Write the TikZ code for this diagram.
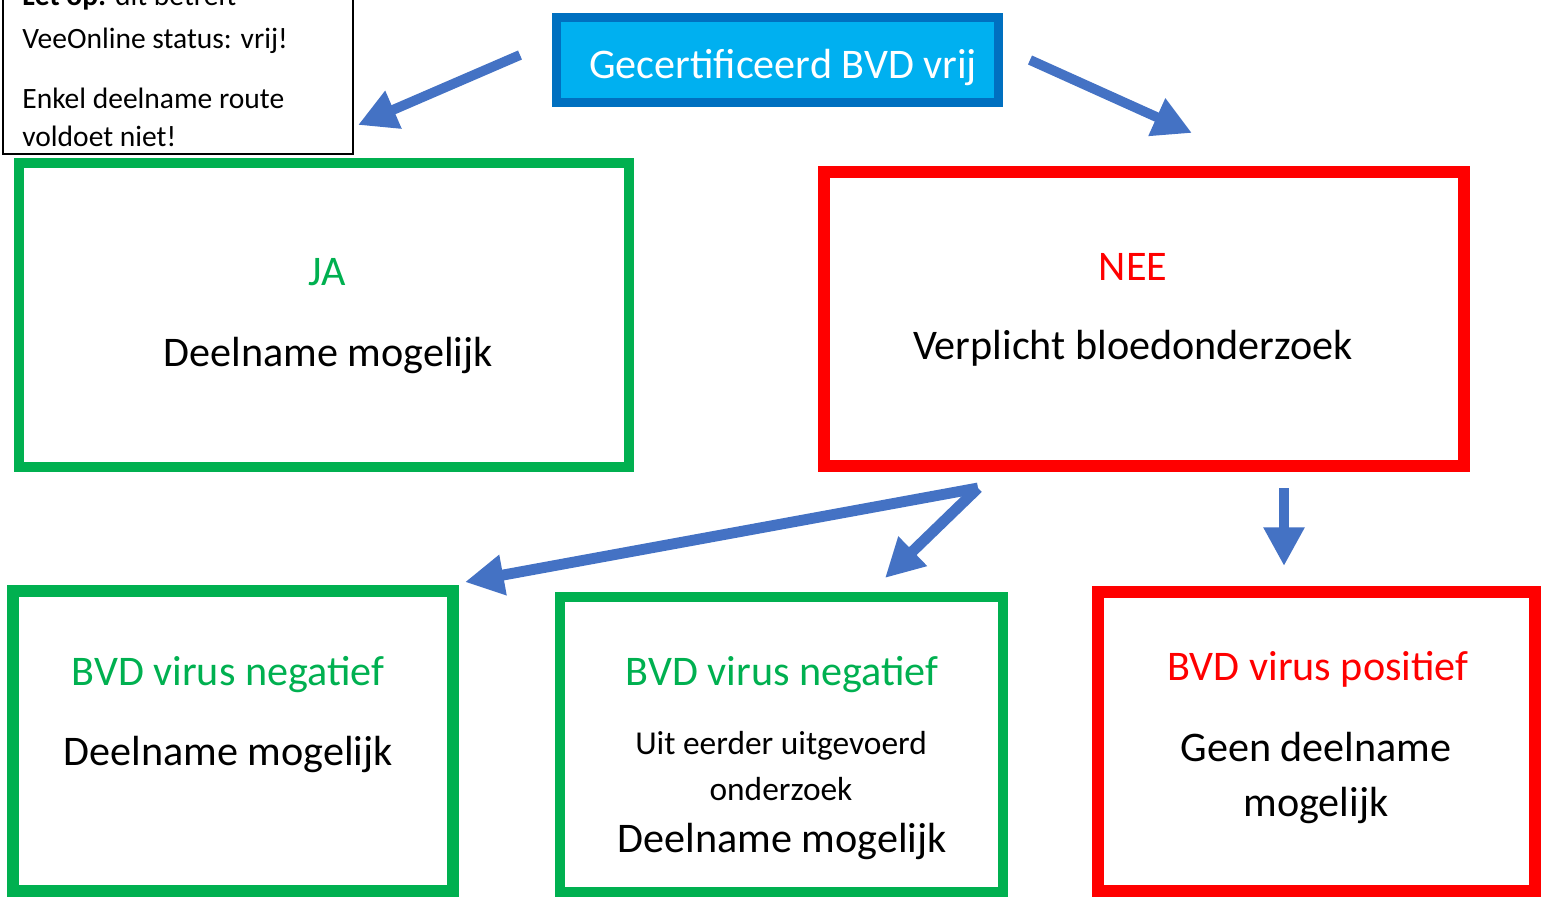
\documentclass[tikz,border=0pt]{standalone}
\usepackage{fontspec}
\setmainfont{Carlito}
\usetikzlibrary{arrows.meta,positioning,calc}
\definecolor{okgreen}{HTML}{00B050}
\definecolor{nored}{HTML}{FF0000}
\definecolor{bvdblue}{HTML}{0070C0}
\definecolor{bvdfill}{HTML}{00B0F0}
\definecolor{flowblue}{HTML}{4472C4}

\begin{document}
\begin{tikzpicture}
[x=0.02cm,y=-0.02cm,
box/.style={draw,shape=rectangle,inner sep=0pt},
okbox/.style={box,draw=okgreen},
nobox/.style={box,draw=nored},
big/.style={font=\fontsize{24}{29}\selectfont,anchor=base,inner sep=0pt},
small/.style={font=\fontsize{19}{23}\selectfont,anchor=base,inner sep=0pt},
notetxt/.style={font=\fontsize{16.8}{20}\selectfont,anchor=base west,inner sep=0pt},
flow/.style={flowblue,line width=6.2pt,-{Triangle[length=22pt,width=22pt]}}]
\useasboundingbox (0,0) rectangle (1541,897);
\clip (0,0) rectangle (1541,897);
%%
% note
%%
\node[box,line width=0.85pt,minimum width=7cm,minimum height=4.28cm] (note) at (178,47) {};
\node[notetxt] (note1) at (22,5) {\textbf{Let op:} dit betreft};
\node[notetxt] (note2) at (22,48) {VeeOnline status: vrij!};
\node[notetxt] (note3) at (22,108) {Enkel deelname route};
\node[notetxt] (note4) at (22,146) {voldoet niet!};
%%
% start
%%
\node[box,draw=bvdblue,fill=bvdfill,line width=5.1pt,minimum width=8.84cm,minimum height=1.7cm] (start) at (777.5,60) {};
\node[big,text=white] (startt) at (783,78) {Gecertificeerd BVD vrij};
%%
% JA / NEE
%%
\node[okbox,line width=5.7pt,minimum width=12.2cm,minimum height=6.08cm] (ja) at (324,315) {};
\node[big,text=okgreen] (jat) at (327,285) {JA};
\node[big] (jad) at (328,366) {Deelname mogelijk};
%
\node[nobox,line width=6.8pt,minimum width=12.8cm,minimum height=5.88cm] (nee) at (1144,319) {};
\node[big,text=nored] (neet) at (1133,280) {NEE};
\node[big] (need) at (1133,359) {Verplicht bloedonderzoek};
%%
% results
%%
\node[okbox,line width=6.8pt,minimum width=8.8cm,minimum height=6cm] (neg1) at (233,741) {};
\node[big,text=okgreen] (neg1t) at (228,685) {BVD virus negatief};
\node[big] (neg1d) at (228,765) {Deelname mogelijk};
%
\node[okbox,line width=5.7pt,minimum width=8.86cm,minimum height=5.9cm] (neg2) at (781.5,744.5) {};
\node[big,text=okgreen] (neg2t) at (782,685) {BVD virus negatief};
\node[small] (neg2u) at (781,754) {Uit eerder uitgevoerd};
\node[small] (neg2o) at (781,800) {onderzoek};
\node[big] (neg2d) at (782,852) {Deelname mogelijk};
%
\node[nobox,line width=6.8pt,minimum width=8.74cm,minimum height=5.98cm] (pos) at (1316.5,741.5) {};
\node[big,text=nored] (post) at (1318,680) {BVD virus positief};
\node[big] (posd) at (1316,761) {Geen deelname};
\node[big] (posm) at (1316,816) {mogelijk};
%%
% arrows
%%
\coordinate (a1s) at (520,55);
\coordinate (a1e) at (358,125);
\coordinate (a2s) at (1030,60);
\coordinate (a2e) at (1192,133);
\coordinate (a3s) at (978,488);
\coordinate (a3e) at (465,582);
\coordinate (a4e) at (885,578);
\coordinate (a5s) at (1284,488);
\coordinate (a5e) at (1284,566);
\path
(a1s) edge[flow,line width=5.6pt] (a1e)
(a2s) edge[flow,line width=5.6pt] (a2e)
(a3s) edge[flow] (a3e)
(a3s) edge[flow] (a4e)
(a5s) edge[flow,line width=5.6pt] (a5e);
\end{tikzpicture}
\end{document}
